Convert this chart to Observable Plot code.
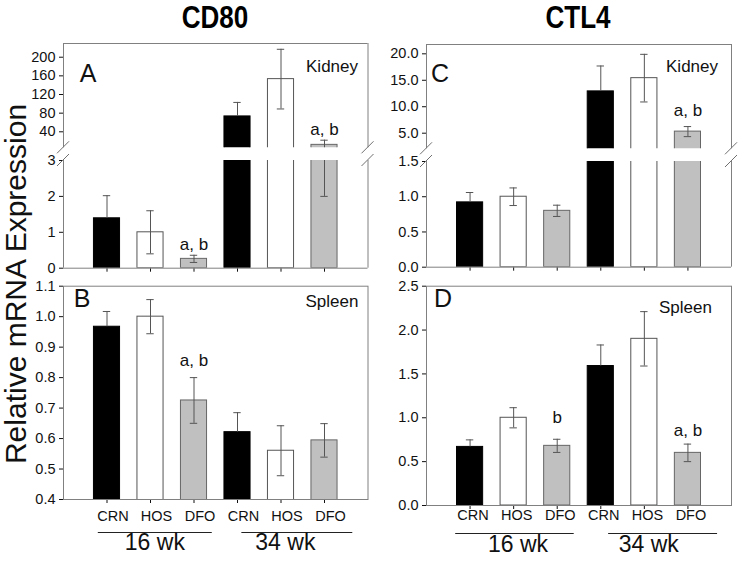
<!DOCTYPE html>
<html>
<head>
<meta charset="utf-8">
<script src="https://cdn.jsdelivr.net/npm/d3@7"></script>
<script src="https://cdn.jsdelivr.net/npm/@observablehq/plot@0.6"></script>
<style>
  html, body { margin: 0; padding: 0; background: #fff; }
  #fig { position: relative; width: 739px; height: 563px; overflow: hidden; font-family: "Liberation Sans", Arial, sans-serif; color: #111; }
  #fig svg { position: absolute; }
  .title { position: absolute; top: 0px; width: 200px; text-align: center; font-family: "Liberation Sans Narrow", "Arial Narrow", "Liberation Sans", sans-serif; font-weight: bold; font-size: 31px; line-height: 36px; color: #000; transform: scaleX(0.84); }
  .ylab { position: absolute; left: 16px; top: 284px; transform: translate(-50%, -50%) rotate(-90deg); white-space: nowrap; font-size: 30px; line-height: 30px; color: #111; }
</style>
</head>
<body>
<div id="fig">
  <div class="title" style="left:115px">CD80</div>
  <div class="title" style="left:478px">CTL4</div>
  <div class="ylab">Relative mRNA Expression</div>
</div>
<script>
// ---------- data ----------
const treatments = ["CRN", "HOS", "DFO", "CRN", "HOS", "DFO"];
const ageGroups = ["16 wk", "34 wk"];

const cd80KidneyMean = [1.39, 1.0, 0.26, 73, 153, 12];
const cd80KidneyErr  = [0.63, 0.6, 0.1, 30, 64, 10];
const cd80SpleenMean = [0.967, 1.0, 0.725, 0.621, 0.56, 0.594];
const cd80SpleenErr  = [0.05, 0.056, 0.075, 0.064, 0.082, 0.055];
const ctl4KidneyMean = [0.92, 1.0, 0.80, 12.9, 15.4, 5.3];
const ctl4KidneyErr  = [0.14, 0.125, 0.08, 4.8, 4.5, 0.95];
const ctl4SpleenMean = [0.668, 1.0, 0.68, 1.59, 1.90, 0.60];
const ctl4SpleenErr  = [0.08, 0.115, 0.075, 0.24, 0.31, 0.10];

// significance labels: [bar number, value level, text]
const cd80KidneySig = [[3, 0.66, "a, b"], [6, 45, "a, b"]];
const cd80SpleenSig = [[3, 0.857, "a, b"]];
const ctl4KidneySig = [[6, 9.3, "a, b"]];
const ctl4SpleenSig = [[3, 1.0, "b"], [6, 0.86, "a, b"]];

// tick values
const cd80KidneyUpperTicks = [40, 80, 120, 160, 200];
const cd80KidneyLowerTicks = [0, 1, 2, 3];
const cd80SpleenTicks = [0.4, 0.5, 0.6, 0.7, 0.8, 0.9, 1.0, 1.1];
const ctl4KidneyUpperTicks = [5, 10, 15, 20];
const ctl4KidneyLowerTicks = [0, 0.5, 1.0, 1.5];
const ctl4SpleenTicks = [0, 0.5, 1.0, 1.5, 2.0, 2.5];

// ---------- helpers ----------
const fillOf = {CRN: "#000000", HOS: "#ffffff", DFO: "#c0c0c0"};
const edgeOf = {CRN: "#000000", HOS: "#555555", DFO: "#666666"};
const rows = (means, errs) => means.map((v, k) => ({i: k + 1, t: treatments[k], v, e: errs[k]}));
const sigRows = (s) => s.map(([i, y, text]) => ({i, y, text}));
const FRAME = "#808080";
const ERR = "#555555";

function barMarks(data) {
  return [
    Plot.rectY(data, {x1: d => d.i - 0.3, x2: d => d.i + 0.3, y1: 0, y2: "v",
      fill: d => fillOf[d.t], stroke: d => edgeOf[d.t], strokeWidth: 1, clip: true}),
    Plot.ruleX(data, {x: "i", y1: d => d.t === "CRN" ? d.v : d.v - d.e, y2: d => d.v + d.e,
      stroke: ERR, strokeWidth: 1, clip: true}),
    Plot.ruleY(data, {y: d => d.v + d.e, x1: d => d.i - 0.085, x2: d => d.i + 0.085,
      stroke: ERR, strokeWidth: 1, clip: true}),
    Plot.ruleY(data.filter(d => d.t !== "CRN"), {y: d => d.v - d.e, x1: d => d.i - 0.085, x2: d => d.i + 0.085,
      stroke: ERR, strokeWidth: 1, clip: true})
  ];
}

function breakMark(edge) {
  return (index, scales, values, dims) => {
    const g = d3.create("svg:g").attr("stroke", "#707070").attr("stroke-width", 1).attr("fill", "none");
    const yb = edge === "bottom" ? dims.height - dims.marginBottom : dims.marginTop;
    for (const xb of [dims.marginLeft, dims.width - dims.marginRight]) {
      g.append("line").attr("x1", xb - 6).attr("y1", yb + 6).attr("x2", xb + 6).attr("y2", yb - 6);
    }
    return g.node();
  };
}

const LEFT = {left: 0, width: 380, ml: 63, mr: 12.5};
const RIGHT = {left: 380, width: 359, ml: 46, mr: 8};

function section(cfg) {
  const {col, top, height, mt, mb, domain, ticks, fmt, data, sig, part, extra} = cfg;
  const inDomain = (y) => y >= domain[0] && y <= domain[1];
  const marks = [];
  marks.push(...barMarks(data));
  if (sig) marks.push(Plot.text(sigRows(sig).filter(d => inDomain(d.y)),
    {x: "i", y: "y", text: "text", fontSize: 17, fill: "#111"}));
  if (part === "upper") {
    marks.push(Plot.ruleY([domain[1]], {stroke: FRAME}));
    marks.push(Plot.ruleX([0, 7], {stroke: FRAME}));
    marks.push(breakMark("bottom"));
  } else if (part === "lower") {
    marks.push(Plot.ruleY([domain[0]], {stroke: FRAME}));
    marks.push(Plot.ruleX([0, 7], {stroke: FRAME}));
    marks.push(breakMark("top"));
  } else {
    marks.push(Plot.frame({stroke: FRAME}));
  }
  if (extra) marks.push(...extra(domain));
  const svg = Plot.plot({
    width: col.width, height,
    marginLeft: col.ml, marginRight: col.mr, marginTop: mt, marginBottom: mb,
    style: {background: "transparent", overflow: "visible", fontSize: "14.5px",
      fontFamily: "'Liberation Sans', Arial, sans-serif", color: "#111"},
    color: {type: "identity"},
    x: part === "upper" ? {domain: [0, 7], axis: null}
      : {domain: [0, 7], ticks: [1, 2, 3, 4, 5, 6], tickFormat: () => "", tickSize: 4, label: null},
    y: {domain, ticks, tickFormat: fmt, tickSize: 4, tickPadding: 4, label: null},
    marks
  });
  svg.style.left = col.left + "px";
  svg.style.top = top + "px";
  document.getElementById("fig").appendChild(svg);
}

function cornerText(text, anchor, dx, dy, size) {
  return Plot.text([text], {text: d => d, frameAnchor: anchor, dx, dy, textAnchor: "middle",
    lineAnchor: "middle", fontSize: size, fill: "#111"});
}

function xLabelMarks(domain, dxLab, dyLab, dyLine, dyGroup, spans) {
  const lab = treatments.map((t, k) => ({i: k + 1, t}));
  const grp = ageGroups.map((g, k) => ({g, a: spans[k][0], b: spans[k][1], c: 3 * k + 2.1}));
  return [
    Plot.text(lab, {x: "i", frameAnchor: "bottom", text: "t", dx: dxLab, dy: dyLab, fontSize: 14.5, fill: "#111"}),
    Plot.ruleY(grp, {y: () => domain[0], x1: "a", x2: "b", dy: dyLine, stroke: "#222", strokeWidth: 1.2}),
    Plot.text(grp, {x: "c", frameAnchor: "bottom", text: "g", dy: dyGroup, fontSize: 23, fill: "#111"})
  ];
}

// ---------- CD80 kidney (A) ----------
const aData = rows(cd80KidneyMean, cd80KidneyErr);
section({col: LEFT, top: 0, height: 150, mt: 43, mb: 2.7, domain: [5.7, 229.4],
  ticks: cd80KidneyUpperTicks, fmt: d3.format("d"), data: aData, sig: cd80KidneySig, part: "upper",
  extra: () => [cornerText("A", "top-left", 24.5, 30, 25), cornerText("Kidney", "top-right", -36, 23, 17)]});
section({col: LEFT, top: 150, height: 124, mt: 10, mb: 6.3, domain: [0, 3],
  ticks: cd80KidneyLowerTicks, fmt: d3.format("d"), data: aData, sig: cd80KidneySig, part: "lower"});

// ---------- CD80 spleen (B) ----------
section({col: LEFT, top: 275, height: 288, mt: 10.7, mb: 64, domain: [0.4, 1.1],
  ticks: cd80SpleenTicks, fmt: d3.format(".1f"), data: rows(cd80SpleenMean, cd80SpleenErr),
  sig: cd80SpleenSig, part: "full",
  extra: (dom) => [cornerText("B", "top-left", 18.5, 12.5, 25), cornerText("Spleen", "top-right", -36, 15, 17),
    ...xLabelMarks(dom, 6, 21, 33, 50, [[0.8, 3.42], [4.1, 6.65]])]});

// ---------- CTL4 kidney (C) ----------
const cData = rows(ctl4KidneyMean, ctl4KidneyErr);
section({col: RIGHT, top: 0, height: 151, mt: 44, mb: 2.7, domain: [2.05, 21.76],
  ticks: ctl4KidneyUpperTicks, fmt: d3.format(".1f"), data: cData, sig: ctl4KidneySig, part: "upper",
  extra: () => [cornerText("C", "top-left", 13.5, 29, 25), cornerText("Kidney", "top-right", -39.5, 22, 17)]});
section({col: RIGHT, top: 151, height: 122, mt: 10, mb: 6.3, domain: [0, 1.5],
  ticks: ctl4KidneyLowerTicks, fmt: d3.format(".1f"), data: cData, sig: ctl4KidneySig, part: "lower"});

// ---------- CTL4 spleen (D) ----------
section({col: RIGHT, top: 275, height: 288, mt: 10.7, mb: 58, domain: [0, 2.5],
  ticks: ctl4SpleenTicks, fmt: d3.format(".1f"), data: rows(ctl4SpleenMean, ctl4SpleenErr),
  sig: ctl4SpleenSig, part: "full",
  extra: (dom) => [cornerText("D", "top-left", 16.5, 12.5, 25), cornerText("Spleen", "top-right", -46, 21.6, 17),
    ...xLabelMarks(dom, 3, 14, 28, 46, [[0.67, 3.39], [4.18, 6.68]])]});
</script>
</body>
</html>
